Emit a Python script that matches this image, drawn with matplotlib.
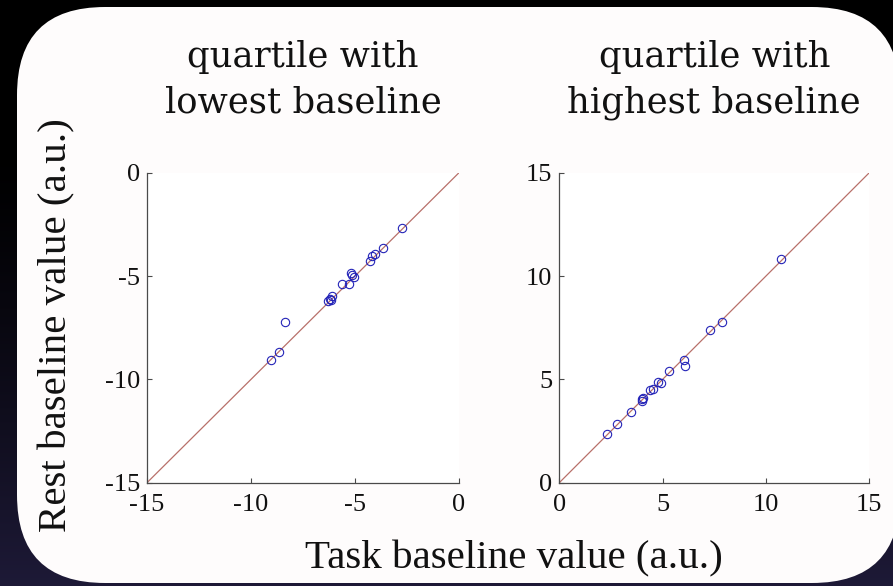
import numpy as np
import matplotlib
matplotlib.use("Agg")
import matplotlib.pyplot as plt
from matplotlib.patches import FancyBboxPatch

# Baseline values per subject (task vs rest), lowest and highest quartiles
low_task = [-2.72, -3.65, -4.05, -4.17, -4.29, -5.21, -5.05, -5.13, -5.29,
            -5.64, -6.09, -6.22, -6.30, -6.14, -8.38, -8.67, -9.02]
low_rest = [-2.68, -3.65, -3.95, -4.02, -4.26, -4.84, -5.03, -4.95, -5.40,
            -5.40, -5.95, -6.13, -6.19, -6.16, -7.24, -8.69, -9.08]

high_task = [10.73, 7.89, 7.29, 6.02, 6.08, 5.32, 4.92, 4.76, 4.55, 4.39,
             4.06, 4.02, 3.98, 3.45, 2.81, 2.32]
high_rest = [10.81, 7.76, 7.40, 5.95, 5.63, 5.40, 4.81, 4.89, 4.55, 4.48,
             4.10, 3.97, 4.03, 3.44, 2.84, 2.34]

low_ticks = [-15, -10, -5, 0]
high_ticks = [0, 5, 10, 15]

titles = ["quartile with\nlowest baseline", "quartile with\nhighest baseline"]
x_label = "Task baseline value (a.u.)"
y_label = "Rest baseline value (a.u.)"

W, H = 893, 586
fig = plt.figure(figsize=(W / 100, H / 100), dpi=100)
fig.patch.set_facecolor("black")

# Backdrop: dark gradient with a rounded white card on top
bg = fig.add_axes([0, 0, 1, 1])
bg.set_xlim(0, W)
bg.set_ylim(0, H)
bg.axis("off")
t = np.linspace(0, 1, 300)[:, None]          # 0 = bottom, 1 = top
fade = np.clip((0.75 - t) / 0.75, 0, 1) ** 1.3
navy = np.array([0.115, 0.10, 0.215])
grad = fade[..., None] * navy[None, None, :]
grad = np.repeat(grad, 2, axis=1)
bg.imshow(grad, extent=[0, W, 0, H], origin="lower", aspect="auto",
          interpolation="bilinear", zorder=0)
card = FancyBboxPatch((17, 3), 883, 576,
                      boxstyle="round,pad=0,rounding_size=88",
                      facecolor="#fefcfc", edgecolor="none", zorder=1)
bg.add_patch(card)

spine_col = "#4a4a4a"
line_col = "#b8706a"
mark_col = "#2424b8"
tick_font = "Liberation Serif"

panels = [
    ([147 / W, (H - 482.7) / H, 312 / W, 310 / H], low_task, low_rest, low_ticks),
    ([559.3 / W, (H - 482.7) / H, 310 / W, 310 / H], high_task, high_rest, high_ticks),
]

for (rect, xs, ys, ticks), title in zip(panels, titles):
    ax = fig.add_axes(rect)
    ax.set_facecolor("white")
    lo, hi = ticks[0], ticks[-1]
    ax.plot([lo, hi], [lo, hi], color=line_col, lw=0.9, zorder=2)
    ax.plot(xs, ys, "o", mfc="none", mec=mark_col, ms=6, mew=0.8, zorder=3)
    ax.set_xlim(lo, hi)
    ax.set_ylim(lo, hi)
    ax.set_xticks(ticks)
    ax.set_yticks(ticks)
    ax.set_xticklabels([str(v) for v in ticks])
    ax.set_yticklabels([str(v) for v in ticks])
    for s in ("top", "right"):
        ax.spines[s].set_visible(False)
    for s in ("left", "bottom"):
        ax.spines[s].set_color(spine_col)
        ax.spines[s].set_linewidth(0.9)
    ax.tick_params(direction="in", length=3.5, width=0.8, color=spine_col,
                   labelsize=19, labelcolor="#111111")
    ax.tick_params(axis="x", pad=8)
    ax.tick_params(axis="y", pad=5)
    for lab in ax.get_xticklabels() + ax.get_yticklabels():
        lab.set_fontfamily(tick_font)
    ax.set_title(title, fontfamily="DejaVu Serif", fontsize=25.5,
                 color="#111111", pad=43, linespacing=1.45)

fig.text(514 / W, (H - 568) / H, x_label, fontfamily="Liberation Serif",
         fontsize=29.5, color="#111111", ha="center", va="baseline")
fig.text(57 / W, (H - 325) / H, y_label, fontfamily="Liberation Serif",
         fontsize=29.5, color="#111111", ha="center", va="center", rotation=90)

fig.savefig("out.png", dpi=100, facecolor=fig.get_facecolor())
